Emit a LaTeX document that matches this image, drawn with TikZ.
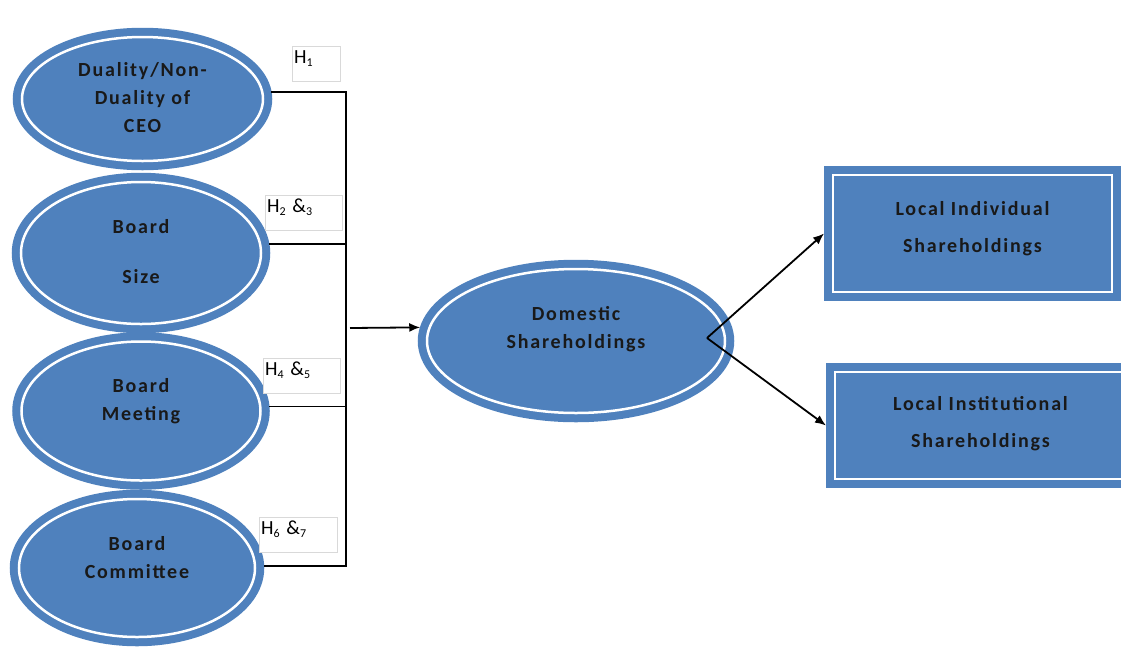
\documentclass[tikz,border=0pt]{standalone}
\usepackage{fontspec}
\setmainfont{Carlito}
\newfontfamily\ovalfont[LetterSpace=9]{Carlito}
\usetikzlibrary{shapes.geometric,arrows.meta}
\definecolor{ovalblue}{RGB}{79,129,189}
\tikzset{
  oval/.style={ellipse, draw=ovalblue, double=white, double distance=2.5pt,
    line width=8pt, fill=ovalblue, inner sep=0pt, outer sep=9pt},
  block/.style={rectangle, draw=ovalblue, double=white, double distance=2.5pt,
    line width=8pt, fill=ovalblue, inner sep=0pt, outer sep=9pt},
  lbl/.style={font=\ovalfont\bfseries\fontsize{20}{28}\selectfont, align=center, text=black!90},
  lblwide/.style={lbl, font=\ovalfont\bfseries\fontsize{20}{37}\selectfont},
  hyp/.style={draw=black!15, fill=white, anchor=north west, inner sep=2pt,
    text height=15pt, text depth=16pt, align=left, font=\fontsize{20}{22}\selectfont},
  wire/.style={black, line width=1.8pt},
  tip/.style={-{Latex[length=11pt,width=9pt]}}
}
\newcommand{\hsub}[1]{\raisebox{-3pt}{\fontsize{12}{12}\selectfont #1}}
\begin{document}
\begin{tikzpicture}[x=1pt,y=-1pt]
  \useasboundingbox (0,0) rectangle (1121,646);
  \clip (0,0) rectangle (1121,646);

  % board attributes
  \node[oval, minimum width=241pt, minimum height=124pt,
    label={[lbl,yshift=1pt]center:Duality/Non-\\Duality of\\CEO}] (m1) at (142.5,99) {};
  \node[oval, minimum width=240pt, minimum height=142pt,
    label={[lbl,yshift=1pt]center:Board\\[22pt]Size}] (m2) at (141,253) {};
  \node[oval, minimum width=239pt, minimum height=139pt,
    label={[lbl,yshift=10pt]center:Board\\Meeting}] (m3) at (141,411) {};
  \node[oval, minimum width=236pt, minimum height=138pt,
    label={[lbl,yshift=10pt]center:Board\\Committee}] (m4) at (137,568) {};

  % hypotheses
  \node[hyp, text width=44pt] (h1) at (292,46) {H\hsub{1}};
  \node[hyp, text width=73pt] (h2) at (265,195) {H\hsub{2} \&\hsub{3}};
  \node[hyp, text width=73pt] (h4) at (263,358) {H\hsub{4} \&\hsub{5}};
  \node[hyp, text width=74pt] (h6) at (259,517) {H\hsub{6} \&\hsub{7}};

  % mediator and outcomes
  \node[oval, minimum width=298pt, minimum height=144pt,
    label={[lbl,yshift=12pt]center:Domestic\\Shareholdings}] (dom) at (576,341) {};
  \node[block, minimum width=279pt, minimum height=117pt,
    label={[lblwide,yshift=5pt]center:Local Individual\\Shareholdings}] (box1) at (972.5,233.5) {};
  \node[block, minimum width=291pt, minimum height=107pt,
    label={[lblwide,yshift=2pt]center:Local Institutional\\Shareholdings}] (box2) at (980.5,425.5) {};

  % connectors
  \coordinate (busx) at (346,0);
  \coordinate (busout) at (350,328);
  \coordinate (split) at (707,338);
  \draw[wire] (m1.3) -| (busx |- m4.1) -- (m4.1);
  \draw[wire] (m2.4) -- (busx |- m2.4);
  \draw[wire] (m3.2) -- (busx |- m3.2);
  \draw[wire, tip] (busout) -- (dom.175);
  \draw[wire, tip] (split) -- (box1.west);
  \draw[wire, tip] (split) -- (box2.west);
\end{tikzpicture}
\end{document}
